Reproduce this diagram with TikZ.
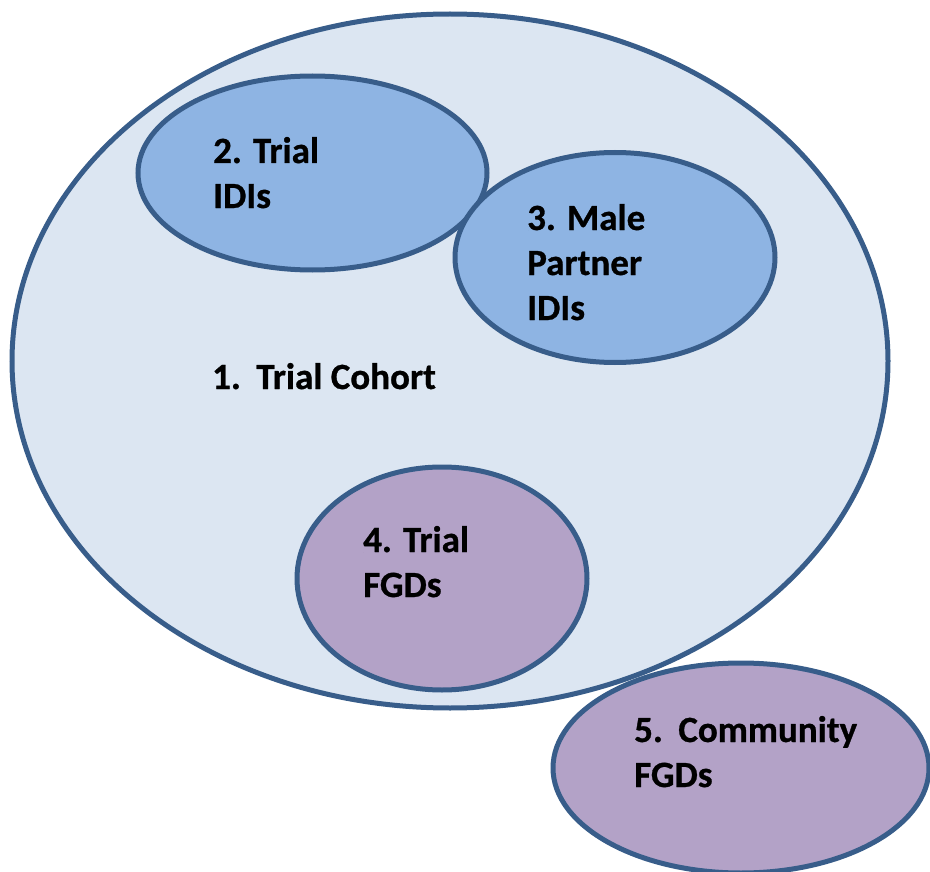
\documentclass[tikz,border=0pt]{standalone}
\usepackage{fontspec}
\setmainfont{Carlito}[BoldFeatures={FakeBold=0.8}]
\usetikzlibrary{shapes.geometric}
\definecolor{edge}{HTML}{385D8A}
\definecolor{bigfill}{HTML}{DCE6F2}
\definecolor{bluefill}{HTML}{8EB4E3}
\definecolor{purplefill}{HTML}{B3A2C7}
\tikzset{
  oval/.style={ellipse, draw=edge, line width=5pt, inner sep=0pt},
  lbl/.style={anchor=base west, inner sep=0pt, font=\fontsize{37}{45}\selectfont\bfseries, align=left}
}
\begin{document}
\begin{tikzpicture}[x=1pt,y=-1pt]
\useasboundingbox (0,0) rectangle (930,872);
\node[oval, fill=bigfill, minimum width=876pt, minimum height=694pt] (cohort) at (450,361) {};
\node[oval, fill=bluefill, minimum width=349pt, minimum height=194pt] (idi) at (312.5,173) {};
\node[oval, fill=bluefill, minimum width=320pt, minimum height=210pt] (male) at (615,257.5) {};
\node[oval, fill=purplefill, minimum width=290pt, minimum height=223pt] (fgd) at (442,578.5) {};
\node[oval, fill=purplefill, minimum width=376pt, minimum height=210pt] (comm) at (741,768) {};
\node[lbl] (t1) at (212,389) {1.\hspace{0.42em}Trial Cohort};
\node[lbl] (t2) at (213,163) {2. Trial};
\node[lbl] (t2b) at (213,208) {IDIs};
\node[lbl] (t3) at (527,230) {3. Male};
\node[lbl] (t3b) at (527,275) {Partner};
\node[lbl] (t3c) at (527,320) {IDIs};
\node[lbl] (t4) at (363,552) {4. Trial};
\node[lbl] (t4b) at (363,597) {FGDs};
\node[lbl] (t5) at (634,742) {5.\hspace{0.42em}Community};
\node[lbl] (t5b) at (634,787) {FGDs};
\end{tikzpicture}
\end{document}
